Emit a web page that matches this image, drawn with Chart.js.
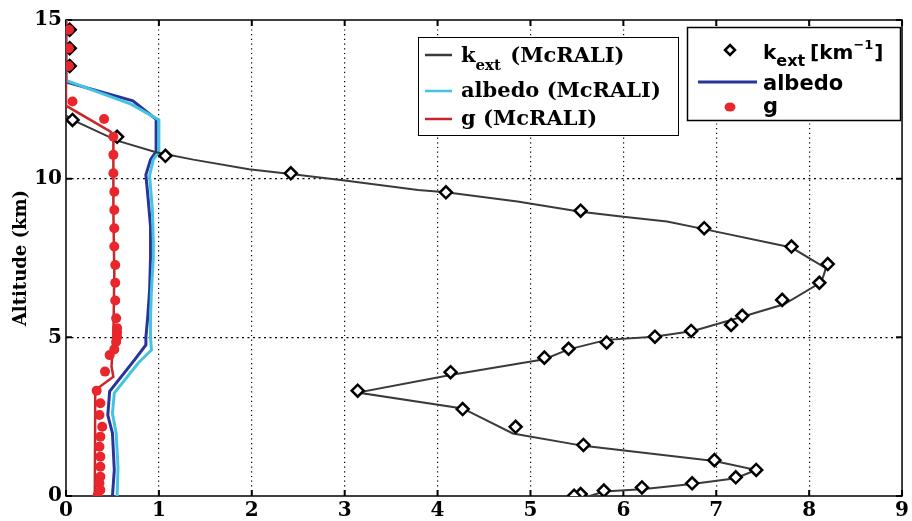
<!DOCTYPE html>
<html>
<head>
<meta charset="utf-8">
<script src="https://cdn.jsdelivr.net/npm/chart.js@4.4.1/dist/chart.umd.min.js"></script>
<style>
  html, body { margin: 0; padding: 0; background: #fff; }
  #wrap { width: 912px; height: 521px; }
</style>
</head>
<body>
<div id="wrap"><canvas id="profile" width="912" height="521"></canvas></div>
<script>
// axis ticks
const xTicks = [0, 1, 2, 3, 4, 5, 6, 7, 8, 9];
const yTicks = [0, 5, 10, 15];

// k_ext measured (diamonds)
const kextObsVal = [0.04, 0.04, 0.04, 0.07, 0.55, 1.07, 2.42, 4.09, 5.54, 6.87, 7.81, 8.20, 8.11, 7.71, 7.28, 7.16, 6.73, 6.34, 5.82, 5.41, 5.15, 4.14, 3.14, 4.27, 4.84, 5.57, 6.98, 7.43, 7.21, 6.74, 6.20, 5.79, 5.54, 5.47];
const kextObsAlt = [14.69, 14.11, 13.55, 11.85, 11.32, 10.72, 10.17, 9.57, 8.99, 8.44, 7.86, 7.31, 6.72, 6.18, 5.68, 5.39, 5.20, 5.02, 4.84, 4.64, 4.36, 3.90, 3.32, 2.74, 2.18, 1.61, 1.13, 0.82, 0.59, 0.40, 0.27, 0.17, 0.06, 0.01];

// k_ext McRALI (line)
const kextSimVal = [0, 0.07, 0.55, 0.97, 1.37, 1.97, 2.42, 3.00, 3.79, 4.09, 4.86, 5.54, 6.00, 6.47, 6.87, 7.81, 8.18, 8.15, 8.11, 7.73, 7.28, 6.75, 6.33, 5.82, 5.41, 5.15, 4.14, 3.14, 4.27, 4.81, 5.57, 6.98, 7.43, 7.21, 6.74, 6.20, 5.79, 5.64];
const kextSimAlt = [12.0, 11.85, 11.20, 10.83, 10.60, 10.30, 10.15, 9.94, 9.64, 9.57, 9.28, 8.96, 8.80, 8.65, 8.41, 7.83, 7.18, 6.90, 6.70, 6.04, 5.65, 5.20, 5.02, 4.92, 4.62, 4.31, 3.81, 3.26, 2.76, 1.97, 1.58, 1.10, 0.82, 0.56, 0.38, 0.21, 0.14, 0.0];

// albedo measured (dark blue line)
const albObsVal = [0, 0, 0.72, 0.97, 0.97, 0.91, 0.86, 0.88, 0.91, 0.91, 0.90, 0.88, 0.86, 0.86, 0.74, 0.47, 0.45, 0.50, 0.52, 0.50];
const albObsAlt = [15, 13.05, 12.45, 11.87, 10.85, 10.60, 10.12, 9.50, 8.50, 7.50, 6.50, 5.65, 5.00, 4.76, 4.30, 3.30, 2.55, 1.98, 0.82, 0.0];

// albedo McRALI (cyan line)
const albSimVal = [0, 0, 0.70, 1.00, 1.00, 0.94, 0.90, 0.93, 0.94, 0.94, 0.92, 0.91, 0.91, 0.92, 0.78, 0.52, 0.50, 0.54, 0.56, 0.55];
const albSimAlt = [15, 13.1, 12.35, 11.85, 10.85, 10.60, 10.10, 9.00, 8.00, 7.50, 6.50, 5.65, 5.00, 4.60, 4.20, 3.24, 2.60, 1.98, 0.90, 0.0];

// g McRALI (red line)
const gSimVal = [0, 0, 0.48, 0.51, 0.51, 0.52, 0.51, 0.49, 0.51, 0.315, 0.31];
const gSimAlt = [15, 12.3, 11.48, 11.30, 9.00, 7.00, 5.00, 4.08, 3.76, 3.34, 0.0];

// g measured (red dots)
const gObsVal = [0.03, 0.03, 0.03, 0.07, 0.41, 0.51, 0.51, 0.51, 0.52, 0.52, 0.52, 0.52, 0.53, 0.53, 0.53, 0.54, 0.55, 0.55, 0.55, 0.54, 0.52, 0.47, 0.42, 0.33, 0.37, 0.36, 0.39, 0.37, 0.36, 0.37, 0.37, 0.37, 0.36, 0.37, 0.34];
const gObsAlt = [14.69, 14.11, 13.55, 12.43, 11.88, 11.32, 10.75, 10.17, 9.59, 9.01, 8.44, 7.86, 7.28, 6.72, 6.16, 5.60, 5.29, 5.15, 5.00, 4.86, 4.62, 4.44, 3.92, 3.32, 2.92, 2.55, 2.18, 1.87, 1.55, 1.24, 0.92, 0.61, 0.40, 0.19, 0.02];

const pts = (xs, ys) => xs.map((v, i) => ({ x: v, y: ys[i] }));

const serif = '"DejaVu Serif", serif';
const sans = '"DejaVu Sans", sans-serif';

const framePlugin = {
    id: 'frame',
    beforeDatasetsDraw(chart) {
        const { ctx, chartArea: a, scales: { x, y } } = chart;
        ctx.save();
        ctx.strokeStyle = '#000';
        ctx.lineWidth = 1.5;
        ctx.strokeRect(a.left, a.top, a.right - a.left, a.bottom - a.top);
        ctx.lineWidth = 2;
        ctx.beginPath();
        xTicks.forEach(v => {
            const px = x.getPixelForValue(v);
            ctx.moveTo(px, a.bottom); ctx.lineTo(px, a.bottom - 6);
            ctx.moveTo(px, a.top); ctx.lineTo(px, a.top + 6);
        });
        yTicks.forEach(v => {
            const py = y.getPixelForValue(v);
            ctx.moveTo(a.left, py); ctx.lineTo(a.left + 6, py);
            ctx.moveTo(a.right, py); ctx.lineTo(a.right - 6, py);
        });
        ctx.stroke();
        ctx.restore();
    }
};

const legendPlugin = {
    id: 'twoLegends',
    afterDraw(chart) {
        const ctx = chart.ctx;
        ctx.save();
        ctx.textBaseline = 'alphabetic';

        // McRALI legend box
        ctx.fillStyle = '#fff';
        ctx.fillRect(418, 37, 260, 98);
        ctx.strokeStyle = '#000';
        ctx.lineWidth = 1;
        ctx.strokeRect(418.5, 37.5, 260, 98);

        const sample = (y, color) => {
            ctx.strokeStyle = color;
            ctx.lineWidth = 2.5;
            ctx.beginPath();
            ctx.moveTo(425, y); ctx.lineTo(452, y);
            ctx.stroke();
        };
        sample(55, '#3a3a3a');
        sample(91, '#45c4e2');
        sample(119, '#c0282b');

        ctx.fillStyle = '#000';
        let tx = 461;
        ctx.font = 'bold 21px ' + serif;
        ctx.fillText('k', tx, 62);
        tx += ctx.measureText('k').width;
        ctx.font = 'bold 15px ' + serif;
        ctx.fillText('ext', tx, 70);
        tx += ctx.measureText('ext').width;
        ctx.font = 'bold 21px ' + serif;
        ctx.fillText(' (McRALI)', tx + 2, 62);
        ctx.fillText('albedo (McRALI)', 461, 97);
        ctx.fillText('g (McRALI)', 461, 125);

        // measurement legend box
        ctx.fillStyle = '#fff';
        ctx.fillRect(687, 27, 213, 93);
        ctx.strokeStyle = '#000';
        ctx.lineWidth = 1.5;
        ctx.strokeRect(687.5, 27.5, 213, 93);

        // diamond
        ctx.strokeStyle = '#000';
        ctx.lineWidth = 2.5;
        ctx.beginPath();
        ctx.moveTo(730, 45); ctx.lineTo(735, 50); ctx.lineTo(730, 55); ctx.lineTo(725, 50); ctx.closePath();
        ctx.stroke();
        // blue line
        ctx.strokeStyle = '#27359a';
        ctx.lineWidth = 3;
        ctx.beginPath();
        ctx.moveTo(698, 82); ctx.lineTo(757, 82);
        ctx.stroke();
        // red dot
        ctx.fillStyle = '#e8262b';
        ctx.beginPath();
        ctx.ellipse(730, 107, 5.5, 4.5, 0, 0, Math.PI * 2);
        ctx.fill();

        ctx.fillStyle = '#000';
        tx = 763;
        ctx.font = 'bold 20px ' + sans;
        ctx.fillText('k', tx, 59);
        tx += ctx.measureText('k').width;
        ctx.font = 'bold 16px ' + sans;
        ctx.fillText('ext', tx, 66);
        tx += ctx.measureText('ext').width + 5;
        ctx.font = 'bold 20px ' + sans;
        ctx.fillText('[km', tx, 59);
        tx += ctx.measureText('[km').width;
        ctx.font = 'bold 13px ' + sans;
        ctx.fillText('\u22121', tx, 49);
        tx += ctx.measureText('\u22121').width + 1;
        ctx.font = 'bold 20px ' + sans;
        ctx.fillText(']', tx, 59);
        ctx.font = 'bold 21px ' + sans;
        ctx.fillText('albedo', 763, 90);
        ctx.fillText('g', 763, 113);
        ctx.restore();
    }
};

const edgeColor = (lo, hi) => c => (c.tick && (c.tick.value === lo || c.tick.value === hi)) ? 'rgba(0,0,0,0)' : '#000';

const config = {
    type: 'scatter',
    data: {
        datasets: [
            {
                label: 'g',
                data: pts(gObsVal, gObsAlt),
                showLine: false,
                pointStyle: 'circle',
                pointRadius: 5,
                pointBackgroundColor: '#e8262b',
                pointBorderWidth: 0,
                order: 1
            },
            {
                label: 'k_ext [km^-1]',
                data: pts(kextObsVal, kextObsAlt),
                showLine: false,
                pointStyle: 'rectRot',
                pointRadius: 6,
                pointBorderWidth: 2.5,
                pointBorderColor: '#000',
                pointBackgroundColor: '#fff',
                order: 2
            },
            {
                label: 'g (McRALI)',
                data: pts(gSimVal, gSimAlt),
                showLine: true,
                borderColor: '#c8282b',
                borderWidth: 2.5,
                pointRadius: 0,
                order: 3
            },
            {
                label: 'k_ext (McRALI)',
                data: pts(kextSimVal, kextSimAlt),
                showLine: true,
                borderColor: '#3a3a3a',
                borderWidth: 2,
                pointRadius: 0,
                order: 4
            },
            {
                label: 'albedo (McRALI)',
                data: pts(albSimVal, albSimAlt),
                showLine: true,
                borderColor: '#45c4e2',
                borderWidth: 3,
                pointRadius: 0,
                order: 5
            },
            {
                label: 'albedo',
                data: pts(albObsVal, albObsAlt),
                showLine: true,
                borderColor: '#27359a',
                borderWidth: 3,
                pointRadius: 0,
                order: 6
            }
        ]
    },
    options: {
        responsive: false,
        animation: false,
        layout: { padding: { top: 20, right: 5, left: 0, bottom: 0 } },
        plugins: {
            legend: { display: false },
            tooltip: { enabled: false }
        },
        scales: {
            x: {
                type: 'linear',
                min: 0,
                max: 9,
                afterBuildTicks: s => { s.ticks = xTicks.map(v => ({ value: v })); },
                afterFit: s => { s.height = 25; },
                ticks: {
                    color: '#000',
                    padding: 3,
                    autoSkip: false,
                    maxRotation: 0,
                    font: { family: serif, size: 20, weight: 'bold' }
                },
                grid: { color: edgeColor(0, 9), lineWidth: 1.2, drawTicks: false },
                border: { display: false, dash: [1.2, 3.5] }
            },
            y: {
                type: 'linear',
                min: 0,
                max: 15,
                afterBuildTicks: s => { s.ticks = yTicks.map(v => ({ value: v })); },
                afterFit: s => { s.width = 66; },
                title: {
                    display: true,
                    text: 'Altitude (km)',
                    color: '#000',
                    padding: { top: 11, bottom: 0 },
                    font: { family: serif, size: 18, weight: 'bold' }
                },
                ticks: {
                    color: '#000',
                    padding: 4,
                    font: { family: serif, size: 20, weight: 'bold' }
                },
                grid: { color: edgeColor(0, 15), lineWidth: 1.2, drawTicks: false },
                border: { display: false, dash: [2, 3.5] }
            }
        }
    },
    plugins: [framePlugin, legendPlugin]
};

const profileChart = new Chart(document.getElementById('profile').getContext('2d'), config);
</script>
</body>
</html>
